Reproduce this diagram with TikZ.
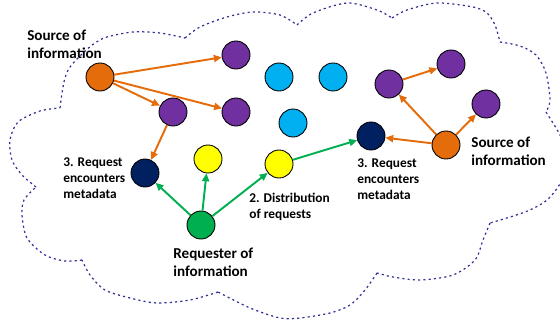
\documentclass[tikz,border=0pt]{standalone}
\usepackage{fontspec}
\setmainfont{Carlito}
\usepackage{xcolor}
\usepackage{tikz}
\usetikzlibrary{arrows.meta}
\definecolor{srcorange}{RGB}{228,108,10}
\definecolor{peerpurple}{RGB}{112,48,160}
\definecolor{idlecyan}{RGB}{0,176,240}
\definecolor{fwdyellow}{RGB}{255,255,0}
\definecolor{metanavy}{RGB}{0,32,96}
\definecolor{reqgreen}{RGB}{0,176,80}
\definecolor{cloudblue}{RGB}{50,50,150}

\begin{document}
\begin{tikzpicture}[
  x=0.02cm, y=-0.02cm,
  peer/.style={circle, draw=black, line width=0.5pt, minimum size=0.56cm, inner sep=0pt},
  bigtext/.style={anchor=west, align=left, inner sep=0pt, font=\fontsize{8.6}{10.2}\selectfont\bfseries},
  smalltext/.style={anchor=west, align=left, inner sep=0pt, font=\fontsize{7.6}{9.1}\selectfont\bfseries},
  oarrow/.style={-{Triangle[length=4.5pt,width=4pt]}, line width=1.1pt, color=srcorange},
  garrow/.style={-{Triangle[length=4.5pt,width=4pt]}, line width=1.1pt, color=reqgreen},
  cloudline/.style={color=cloudblue, line width=0.7pt, dash pattern=on 1.2pt off 1.8pt}
]
\fill[white] (0,0) rectangle (560,327);
\useasboundingbox (0,0) rectangle (560,327);

% cloud outline
\draw[cloudline] plot[smooth] coordinates {(60,108) (62,93) (65,78) (70,67) (83,53) (95,43) (107,37) (133,32) (160,33) (185,38)};
\draw[cloudline] plot[smooth] coordinates {(185,38) (200,27) (227,17) (253,12) (280,15) (297,25)};
\draw[cloudline] plot[smooth] coordinates {(297,25) (313,13) (347,3) (377,10) (392,18)};
\draw[cloudline] plot[smooth] coordinates {(392,18) (407,10) (437,3) (473,7) (487,13) (495,25) (500,42)};
\draw[cloudline] plot[smooth] coordinates {(500,42) (520,46) (536,55) (546,73) (550,100) (546,112)};
\draw[cloudline] plot[smooth] coordinates {(546,112) (560,135) (567,155) (562,180) (547,200) (525,212) (490,223)};
\draw[cloudline] plot[smooth] coordinates {(490,223) (483,240) (475,260) (453,275) (420,280) (393,277) (377,273)};
\draw[cloudline] plot[smooth] coordinates {(377,273) (365,290) (350,305) (330,313) (300,318) (280,318) (250,308) (218,292)};
\draw[cloudline] plot[smooth] coordinates {(218,292) (190,300) (157,303) (130,298) (105,290) (90,275) (82,260)};
\draw[cloudline] plot[smooth] coordinates {(82,260) (65,261) (45,255) (27,238) (22,215) (24,200) (36,187)};
\draw[cloudline] plot[smooth] coordinates {(36,187) (22,175) (12,160) (10,140) (18,122) (40,111) (60,108)};

% peers
\node[peer, fill=srcorange] (src1) at (100,77) {};
\node[peer, fill=peerpurple] (p1) at (236,55) {};
\node[peer, fill=peerpurple] (p2) at (173,112) {};
\node[peer, fill=peerpurple] (p3) at (236,112) {};
\node[peer, fill=idlecyan] (c1) at (279,77) {};
\node[peer, fill=idlecyan] (c2) at (333,77) {};
\node[peer, fill=idlecyan] (c3) at (293,123) {};
\node[peer, fill=peerpurple] (p4) at (389,84) {};
\node[peer, fill=peerpurple] (p5) at (451,64) {};
\node[peer, fill=peerpurple] (p6) at (486,104) {};
\node[peer, fill=metanavy] (n1) at (145,173) {};
\node[peer, fill=metanavy] (n2) at (371,136) {};
\node[peer, fill=srcorange] (src2) at (446,145) {};
\node[peer, fill=fwdyellow] (y1) at (208,159) {};
\node[peer, fill=fwdyellow] (y2) at (279,164) {};
\node[peer, fill=reqgreen] (req) at (201,225) {};

% labels
\node[bigtext] (srclbl1) at (27,44) {Source of\\information};
\node[bigtext] (srclbl2) at (471,151) {Source of\\information};
\node[bigtext] (reqlbl) at (173,262) {Requester of\\information};
\node[smalltext] (metalbl1) at (63,178) {3. Request\\encounters\\metadata};
\node[smalltext] (metalbl2) at (357,179) {3. Request\\encounters\\metadata};
\node[smalltext] (distlbl) at (249,207) {2. Distribution\\of requests};

% arrows
\draw[oarrow] (src1) -- (p1);
\draw[oarrow] (src1) -- (p2);
\draw[oarrow] (src1) -- (p3);
\draw[oarrow] (p2) -- (n1);
\draw[oarrow] (src2) -- (p4);
\draw[oarrow] (src2) -- (p6);
\draw[oarrow] (src2) -- (n2);
\draw[oarrow] (p4) -- (p5);
\draw[garrow] (req) -- (n1);
\draw[garrow] (req) -- (y1);
\draw[garrow] (req) -- (y2);
\draw[garrow] (y2) -- (n2);

\end{tikzpicture}
\end{document}
